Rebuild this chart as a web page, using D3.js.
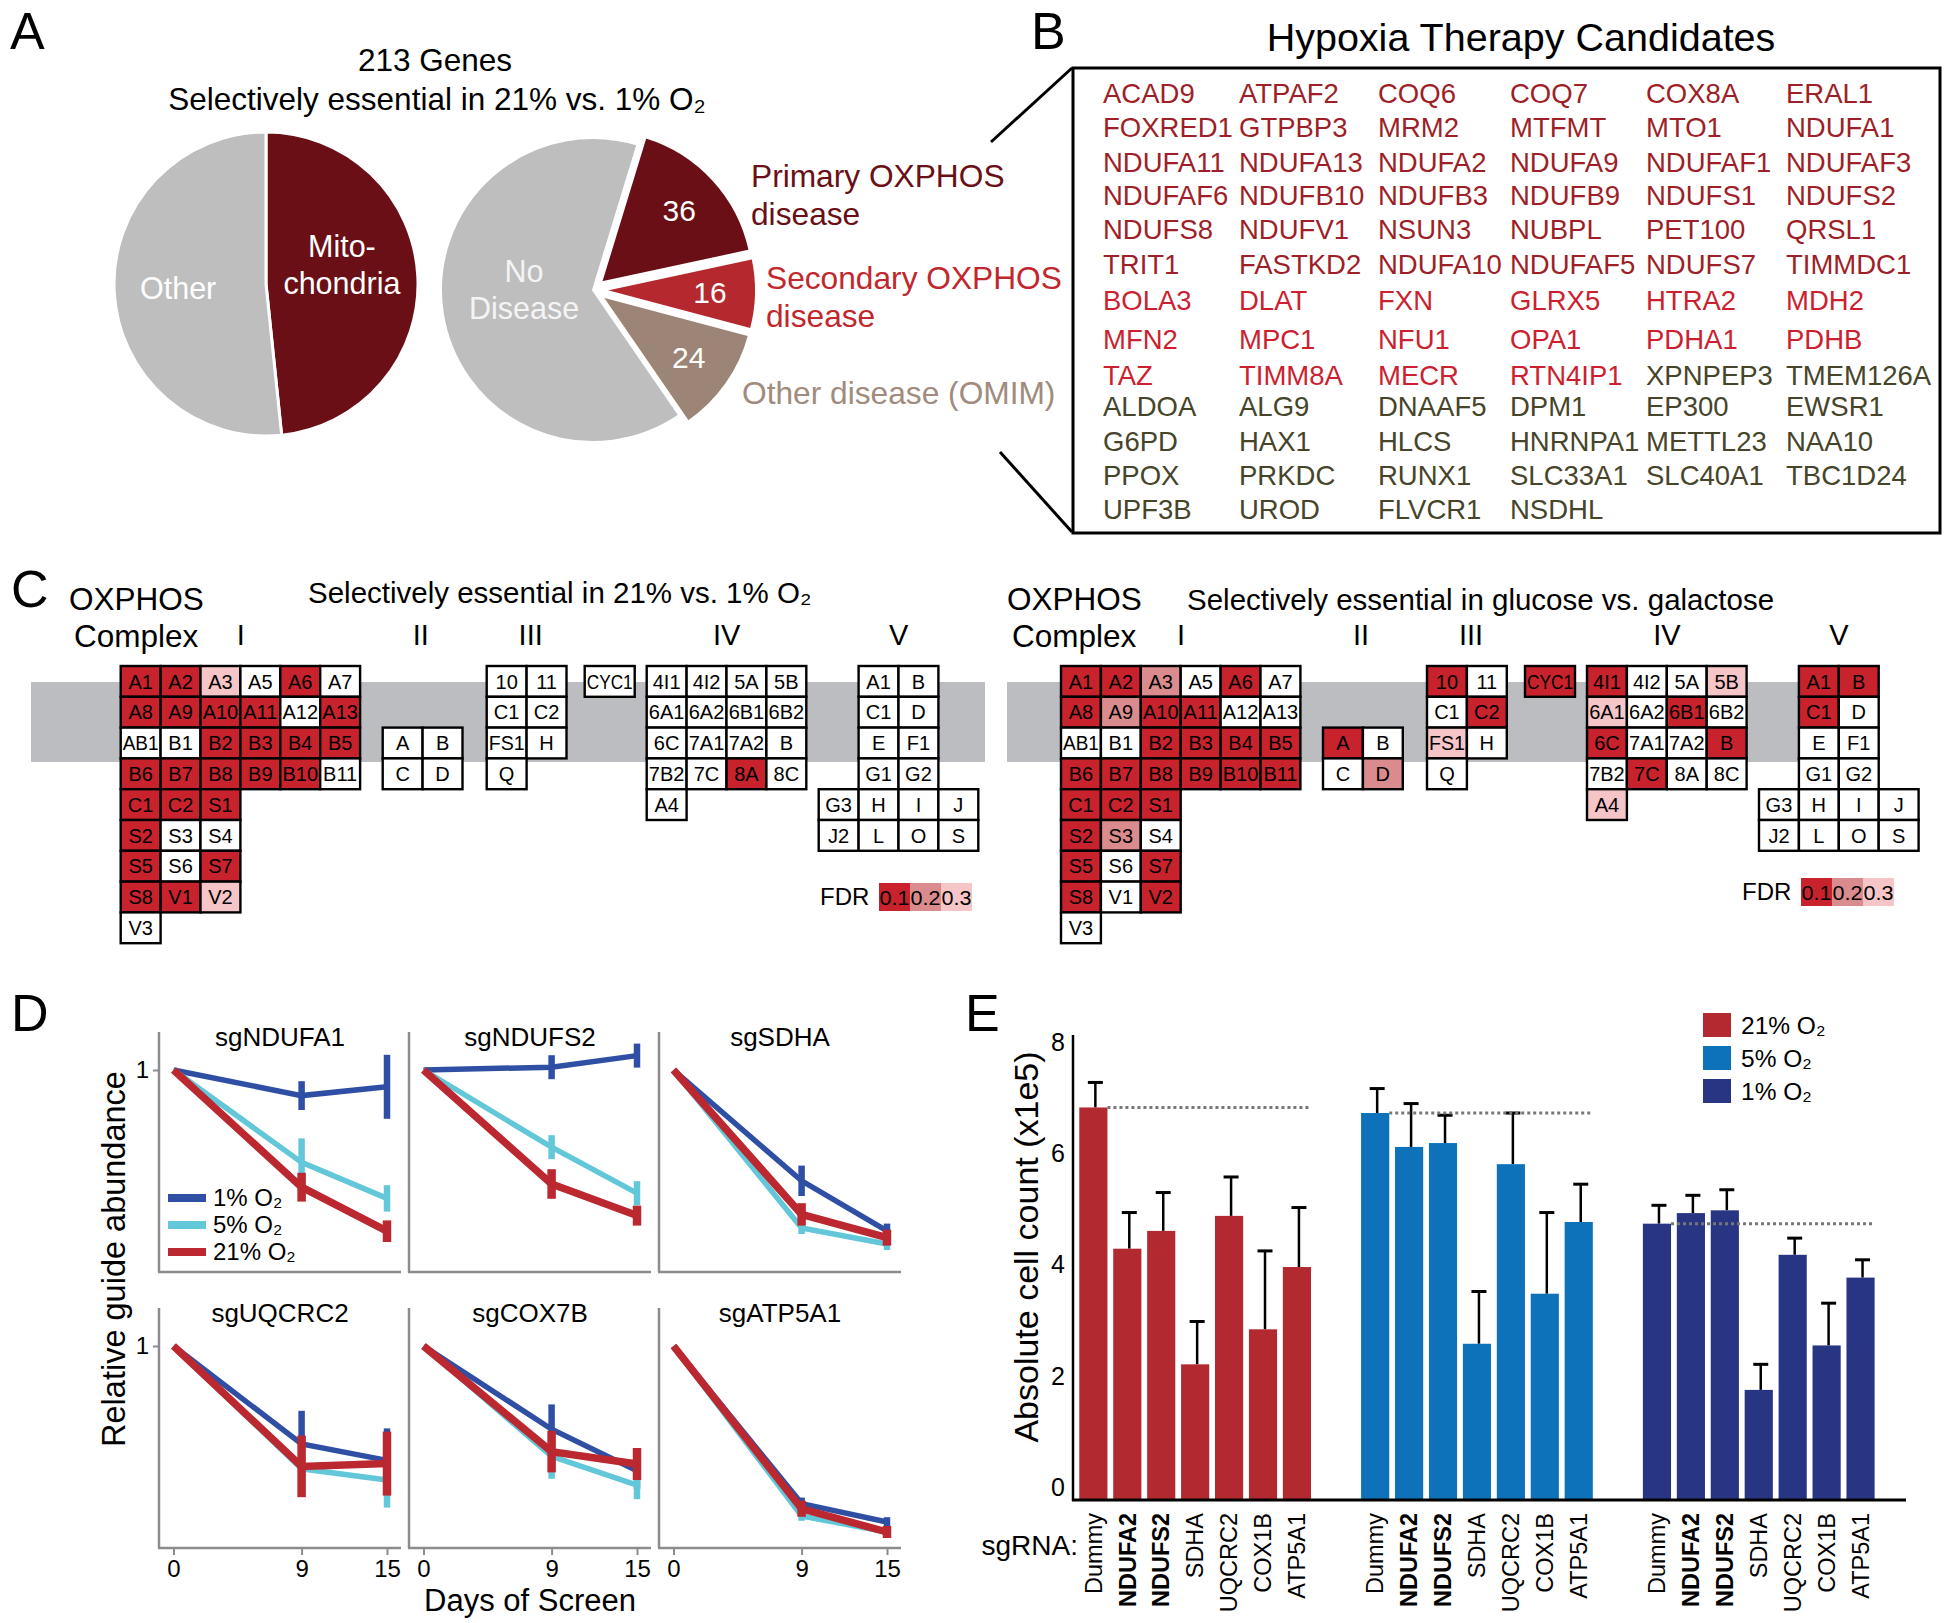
<!DOCTYPE html>
<html><head><meta charset="utf-8">
<script src="https://cdn.jsdelivr.net/npm/d3@7"></script>
<style>
body{margin:0;background:#fff}
svg{display:block}
text{font-family:"Liberation Sans",Arial,Helvetica,sans-serif}
</style>
</head><body>
<svg id="fig" width="1950" height="1623"></svg>
<script>
// ---------------- DATA ----------------
// Panel A
const mitoCategories = ["Mitochondria", "Other"];
const mitoCounts = [103, 110];
const diseaseCategories = ["Primary OXPHOS disease", "Secondary OXPHOS disease", "Other disease (OMIM)", "No Disease"];
const diseaseCounts = [36, 16, 24, 137];

// Panel B
const primaryGenes = ["ACAD9","ATPAF2","COQ6","COQ7","COX8A","ERAL1","FOXRED1","GTPBP3","MRM2","MTFMT","MTO1","NDUFA1",
  "NDUFA11","NDUFA13","NDUFA2","NDUFA9","NDUFAF1","NDUFAF3","NDUFAF6","NDUFB10","NDUFB3","NDUFB9","NDUFS1","NDUFS2",
  "NDUFS8","NDUFV1","NSUN3","NUBPL","PET100","QRSL1","TRIT1","FASTKD2","NDUFA10","NDUFAF5","NDUFS7","TIMMDC1"];
const secondaryGenes = ["BOLA3","DLAT","FXN","GLRX5","HTRA2","MDH2","MFN2","MPC1","NFU1","OPA1","PDHA1","PDHB",
  "TAZ","TIMM8A","MECR","RTN4IP1"];
const otherDiseaseGenes = ["XPNPEP3","TMEM126A","ALDOA","ALG9","DNAAF5","DPM1","EP300","EWSR1","G6PD","HAX1","HLCS",
  "HNRNPA1","METTL23","NAA10","PPOX","PRKDC","RUNX1","SLC33A1","SLC40A1","TBC1D24","UPF3B","UROD","FLVCR1","NSDHL"];

// Panel C  (subunit grids per complex; FDR class 0 = n.s., 1 = <0.1, 2 = <0.2, 3 = <0.3)
const complexNames = ["I","II","III","CYC1","IV","V"];
const subunitsI = [["A1","A2","A3","A5","A6","A7"],["A8","A9","A10","A11","A12","A13"],["AB1","B1","B2","B3","B4","B5"],
  ["B6","B7","B8","B9","B10","B11"],["C1","C2","S1"],["S2","S3","S4"],["S5","S6","S7"],["S8","V1","V2"],["V3"]];
const subunitsII = [["A","B"],["C","D"]];
const subunitsIII = [["10","11"],["C1","C2"],["FS1","H"],["Q"]];
const subunitsCYC1 = [["CYC1"]];
const subunitsIV = [["4I1","4I2","5A","5B"],["6A1","6A2","6B1","6B2"],["6C","7A1","7A2","B"],["7B2","7C","8A","8C"],["A4"]];
const subunitsV = [[null,"A1","B"],[null,"C1","D"],[null,"E","F1"],[null,"G1","G2"],["G3","H","I","J"],["J2","L","O","S"]];

const fdrHypoxiaI = [[1,1,3,0,1,0],[1,1,1,1,0,1],[0,0,1,1,1,1],[1,1,1,1,1,0],[1,1,1],[1,0,0],[1,0,1],[1,1,3],[0]];
const fdrHypoxiaII = [[0,0],[0,0]];
const fdrHypoxiaIII = [[0,0],[0,0],[0,0],[0]];
const fdrHypoxiaCYC1 = [[0]];
const fdrHypoxiaIV = [[0,0,0,0],[0,0,0,0],[0,0,0,0],[0,0,1,0],[0]];
const fdrHypoxiaV = [[0,0,0],[0,0,0],[0,0,0],[0,0,0],[0,0,0,0],[0,0,0,0]];

const fdrGalactoseI = [[1,1,2,0,1,0],[1,2,1,1,0,0],[0,0,1,1,1,1],[1,1,1,1,1,1],[1,1,1],[1,2,0],[1,0,1],[1,0,1],[0]];
const fdrGalactoseII = [[1,0],[0,2]];
const fdrGalactoseIII = [[1,0],[0,1],[3,0],[0]];
const fdrGalactoseCYC1 = [[1]];
const fdrGalactoseIV = [[1,0,0,3],[3,0,1,0],[1,0,0,1],[0,1,0,0],[3]];
const fdrGalactoseV = [[0,1,1],[0,1,0],[0,0,0],[0,0,0],[0,0,0,0],[0,0,0,0]];
const fdrLegendLabels = ["0.1","0.2","0.3"];

// Panel D (log2 relative guide abundance, mean and error)
const days = [0, 9, 15];
const guidesD = ["sgNDUFA1","sgNDUFS2","sgSDHA","sgUQCRC2","sgCOX7B","sgATP5A1"];
const o2Conditions = ["1% O₂","5% O₂","21% O₂"];
const abund1pct  = [[0,-0.64,-0.42],[0,0.07,0.36],[0,-2.77,-4.02],[0,-2.45,-2.86],[0,-2.08,-3.12],[0,-3.94,-4.40]];
const err1pct    = [[0,0.36,0.80],[0,0.30,0.30],[0,0.38,0.18],[0,0.83,0.80],[0,0.62,0.45],[0,0.15,0.12]];
const abund5pct  = [[0,-2.31,-3.21],[0,-1.93,-3.08],[0,-3.95,-4.35],[0,-3.07,-3.35],[0,-2.76,-3.48],[0,-4.25,-4.65]];
const err5pct    = [[0,0.60,0.33],[0,0.30,0.30],[0,0.15,0.15],[0,0.30,0.69],[0,0.56,0.35],[0,0.12,0.12]];
const abund21pct = [[0,-2.93,-4.03],[0,-2.85,-3.64],[0,-3.61,-4.19],[0,-3.01,-2.94],[0,-2.64,-2.95],[0,-4.07,-4.65]];
const err21pct   = [[0,0.36,0.27],[0,0.37,0.25],[0,0.28,0.20],[0,0.77,0.80],[0,0.52,0.40],[0,0.20,0.15]];

// Panel E (absolute cell count x1e5)
const sgRNAs = ["Dummy","NDUFA2","NDUFS2","SDHA","UQCRC2","COX1B","ATP5A1"];
const boldSgRNAs = ["NDUFA2","NDUFS2"];
const o2Levels = ["21% O₂","5% O₂","1% O₂"];
const counts21 = [7.06, 4.52, 4.84, 2.44, 5.11, 3.07, 4.19];
const errs21   = [0.45, 0.65, 0.69, 0.77, 0.70, 1.41, 1.07];
const counts5  = [6.96, 6.35, 6.42, 2.81, 6.04, 3.71, 5.00];
const errs5    = [0.44, 0.78, 0.50, 0.94, 0.92, 1.46, 0.68];
const counts1  = [4.97, 5.16, 5.21, 1.98, 4.41, 2.78, 4.00];
const errs1    = [0.33, 0.32, 0.37, 0.46, 0.30, 0.76, 0.32];
const yTicksE = [0, 2, 4, 6, 8];

// ---------------- DRAWING ----------------
(function(){
const svg = d3.select("#fig");

// panel letters
[["A",10,49],["B",1031,49],["C",11,607],["D",11,1031],["E",965,1031]].forEach(([t,x,y]) => {
  svg.append("text").attr("x",x).attr("y",y).attr("font-size",52).text(t);
});

// ===== Panel A =====
svg.append("text").attr("x",435).attr("y",60).attr("dy","0.35em").attr("text-anchor","middle").attr("font-size",31.5).text("213 Genes");
svg.append("text").attr("x",437).attr("y",99).attr("dy","0.35em").attr("text-anchor","middle").attr("font-size",31.5)
  .text("Selectively essential in 21% vs. 1% O₂");

const rA = 152;
const arc = d3.arc().innerRadius(0).outerRadius(rA);
const mitoData = mitoCategories.map((c,i)=>({cat:c, v:mitoCounts[i]}));
const pieGen = d3.pie().sort(null).value(d=>d.v).startAngle(0).endAngle(2*Math.PI);
const mitoColor = d3.scaleOrdinal().domain(mitoCategories).range(["#6b0f16","#bebebe"]);
const g1 = svg.append("g").attr("transform","translate(266,284)");
const arcs1 = pieGen(mitoData);
g1.selectAll("path").data(arcs1).join("path").attr("d",arc).attr("fill",d=>mitoColor(d.data.cat))
  .attr("stroke","#fff").attr("stroke-width",3);
arcs1.forEach(a => {
  const isMito = a.data.cat === "Mitochondria";
  const lines = isMito ? ["Mito-","chondria"] : ["Other"];
  const mid = (a.startAngle + a.endAngle)/2;
  const lr = isMito ? 76 : 88;
  const cx = Math.sin(mid)*lr, cy = -Math.cos(mid)*lr;
  lines.forEach((t,i)=>{
    g1.append("text").attr("x", cx).attr("y", cy + (i-(lines.length-1)/2)*37 + (isMito?-15:0))
      .attr("dy","0.35em").attr("text-anchor","middle").attr("font-size",30.5).attr("fill","#fff").text(t);
  });
});

// disease pie
const disData = diseaseCategories.map((c,i)=>({cat:c, v:diseaseCounts[i]}));
const start = 17*Math.PI/180;
const pie2 = d3.pie().sort(null).value(d=>d.v).startAngle(start).endAngle(start+2*Math.PI);
const arcs2 = pie2(disData);
const disColor = d3.scaleOrdinal().domain(diseaseCategories).range(["#6b0f16","#b5282e","#9c8577","#bebebe"]);
const g2 = svg.append("g").attr("transform","translate(593,290)");
const explode = 11;
arcs2.forEach(a => {
  const mid = (a.startAngle + a.endAngle)/2;
  const off = a.data.cat === "No Disease" ? 0 : explode;
  const dx = Math.sin(mid)*off, dy = -Math.cos(mid)*off;
  g2.append("path").attr("d", arc(a)).attr("transform",`translate(${dx},${dy})`)
    .attr("fill", disColor(a.data.cat)).attr("stroke","#fff").attr("stroke-width",2);
  if (a.data.cat === "No Disease") {
    g2.append("text").attr("x",-69).attr("y",-19).attr("dy","0.35em").attr("text-anchor","middle").attr("font-size",30.5).attr("fill","#f4f4f4").text("No");
    g2.append("text").attr("x",-69).attr("y",18).attr("dy","0.35em").attr("text-anchor","middle").attr("font-size",30.5).attr("fill","#f4f4f4").text("Disease");
  } else {
    const lr = 106;
    const lx = Math.sin(mid)*(lr+off), ly = -Math.cos(mid)*(lr+off);
    g2.append("text").attr("x",lx).attr("y",ly).attr("dy","0.35em").attr("text-anchor","middle").attr("font-size",30).attr("fill","#fff").text(a.data.v);
  }
});
// outside labels
const outLabels = [
  {lines:["Primary OXPHOS","disease"], x:751, y:[176,214], c:"#6b0f16"},
  {lines:["Secondary OXPHOS","disease"], x:766, y:[278,316], c:"#c1272d"},
  {lines:["Other disease (OMIM)"], x:742, y:[393], c:"#a08b7d"}
];
outLabels.forEach(o => o.lines.forEach((t,i)=>{
  svg.append("text").attr("x",o.x).attr("y",o.y[i]).attr("dy","0.35em").attr("font-size",31.7).attr("fill",o.c).text(t);
}));
// connector lines to panel B
svg.append("line").attr("x1",991).attr("y1",142).attr("x2",1072).attr("y2",68).attr("stroke","#000").attr("stroke-width",3);
svg.append("line").attr("x1",1000).attr("y1",452).attr("x2",1072).attr("y2",532).attr("stroke","#000").attr("stroke-width",3);

// ===== Panel B =====
svg.append("text").attr("x",1521).attr("y",37).attr("dy","0.35em").attr("text-anchor","middle").attr("font-size",39.5).text("Hypoxia Therapy Candidates");
svg.append("rect").attr("x",1073).attr("y",68).attr("width",867).attr("height",465).attr("fill","none").attr("stroke","#000").attr("stroke-width",3);
const allGenes = primaryGenes.map(g=>({g,c:"p"})).concat(secondaryGenes.map(g=>({g,c:"s"})), otherDiseaseGenes.map(g=>({g,c:"o"})));
const geneColor = {p:"#9e1f28", s:"#cc1f30", o:"#46452a"};
const colX = [1103,1239,1378,1510,1646,1786];
const rowY = [93.5,127,162,195.5,229,264,300.5,339,375.5,406.5,441.5,475,509.5];
svg.append("g").selectAll("text").data(allGenes).join("text")
  .attr("x",(d,i)=>colX[i%6]).attr("y",(d,i)=>rowY[Math.floor(i/6)]).attr("dy","0.35em")
  .attr("font-size",27.5).attr("fill",d=>geneColor[d.c]).text(d=>d.g);

// ===== Panel C =====
const subunits = {I:subunitsI, II:subunitsII, III:subunitsIII, CYC1:subunitsCYC1, IV:subunitsIV, V:subunitsV};
const fdrH = {I:fdrHypoxiaI, II:fdrHypoxiaII, III:fdrHypoxiaIII, CYC1:fdrHypoxiaCYC1, IV:fdrHypoxiaIV, V:fdrHypoxiaV};
const fdrG = {I:fdrGalactoseI, II:fdrGalactoseII, III:fdrGalactoseIII, CYC1:fdrGalactoseCYC1, IV:fdrGalactoseIV, V:fdrGalactoseV};
const fdrColor = d3.scaleOrdinal().domain([0,1,2,3]).range(["#ffffff","#c8232c","#d98b8d","#f5c5c8"]);
const cellW = 39.9, cellH = 30.8, cellTop = 666;
const complexX = {I:0, II:262, III:366, CYC1:464, IV:526, V:698};
const complexRow0 = {I:0, II:2, III:0, CYC1:0, IV:0, V:0};
const romanCenter = {I:120, II:300, III:410, IV:606, V:778};
const cellFont = '"Liberation Sans Narrow","Liberation Sans",Arial,sans-serif';

function drawOxphos(ox, fdr, title, titleX, titleY, oxX, band, legend) {
  const g = svg.append("g");
  g.append("rect").attr("x",band[0]).attr("y",682).attr("width",band[1]-band[0]).attr("height",80).attr("fill","#bcbdc0");
  g.append("text").attr("x",oxX).attr("y",599).attr("dy","0.35em").attr("font-size",31.5).text("OXPHOS");
  g.append("text").attr("x",oxX+5).attr("y",636).attr("dy","0.35em").attr("font-size",31.5).text("Complex");
  g.append("text").attr("x",titleX).attr("y",titleY).attr("dy","0.35em").attr("font-size",29.5).text(title);
  Object.entries(romanCenter).forEach(([k,cx]) => {
    g.append("text").attr("x",ox+cx).attr("y",635).attr("dy","0.35em").attr("text-anchor","middle").attr("font-size",29).text(k);
  });
  complexNames.forEach(cn => {
    const rows = subunits[cn];
    const w = cn === "CYC1" ? 50 : cellW;
    rows.forEach((row, ri) => row.forEach((name, ci) => {
      if (name === null) return;
      const x = ox + complexX[cn] + ci*w, y = cellTop + (complexRow0[cn]+ri)*cellH;
      g.append("rect").attr("x",x).attr("y",y).attr("width",w).attr("height",cellH)
        .attr("fill",fdrColor(fdr[cn][ri][ci])).attr("stroke","#000").attr("stroke-width",2.4);
      const t = g.append("text").attr("x",x+w/2).attr("y",y+cellH/2).attr("dy","0.36em").attr("text-anchor","middle")
        .attr("font-size",20).attr("font-family",cellFont).text(name);
      const len = t.node().getComputedTextLength();
      if (len > w-4) t.attr("textLength", w-4).attr("lengthAdjust","spacingAndGlyphs");
    }));
  });
  // FDR legend
  g.append("text").attr("x",legend[0]).attr("y",legend[1]).attr("dy","0.35em").attr("font-size",24).text("FDR");
  fdrLegendLabels.forEach((t,i) => {
    const x = legend[0]+59+i*31;
    g.append("rect").attr("x",x).attr("y",legend[1]-14).attr("width",31).attr("height",28).attr("fill",fdrColor(i+1));
    g.append("text").attr("x",x+15.5).attr("y",legend[1]).attr("dy","0.36em").attr("text-anchor","middle").attr("font-size",21)
      .attr("font-family",cellFont).attr("textLength",30).attr("lengthAdjust","spacingAndGlyphs").text(t);
  });
}
drawOxphos(120.7, fdrH, "Selectively essential in 21% vs. 1% O₂", 308, 593, 69, [31,985], [820,897]);
drawOxphos(1061, fdrG, "Selectively essential in glucose vs. galactose", 1187, 600, 1007, [1007,1806], [1742,892]);

// ===== Panel D =====
const condColor = d3.scaleOrdinal().domain(o2Conditions).range(["#2f4fa4","#62c8d9","#bb2830"]);
const condWidth = {"1% O₂":5.5, "5% O₂":5.5, "21% O₂":7.5};
const condAbund = {"1% O₂":abund1pct, "5% O₂":abund5pct, "21% O₂":abund21pct};
const condErr = {"1% O₂":err1pct, "5% O₂":err5pct, "21% O₂":err21pct};
const facetX0 = [159,409,659], facetTop = [1032,1308];
const facetW = 242, facetH = 240;
const axisGray = "#8c8c8c";
const ff = '"Liberation Sans",Arial,sans-serif';
guidesD.forEach((guide, gi) => {
  const col = gi % 3, row = Math.floor(gi/3);
  const x0 = facetX0[col], top = facetTop[row], bottom = top + facetH;
  const x = d3.scaleLinear().domain([0,15]).range([x0+14.5, x0+228]);
  const y = d3.scaleLinear().domain([-5.05, 0.95]).range([bottom, top]);
  const g = svg.append("g");
  g.append("line").attr("x1",x0).attr("x2",x0).attr("y1",top).attr("y2",bottom).attr("stroke",axisGray).attr("stroke-width",2.5);
  g.append("line").attr("x1",x0-1).attr("x2",x0+facetW).attr("y1",bottom).attr("y2",bottom).attr("stroke",axisGray).attr("stroke-width",2.5);
  g.append("text").attr("x",x0+121).attr("y",top+5).attr("dy","0.35em").attr("text-anchor","middle").attr("font-size",26).text(guide);
  if (col === 0) {
    const ya = d3.axisLeft(y).tickValues([0]).tickFormat(()=> "1").tickSize(6).tickPadding(4);
    const ag = g.append("g").attr("transform",`translate(${x0},0)`).call(ya);
    ag.select(".domain").remove();
    ag.selectAll("line").attr("stroke",axisGray).attr("stroke-width",2);
    ag.selectAll("text").attr("font-size",24).attr("font-family",ff).attr("fill","#000");
  }
  if (row === 1) {
    const xa = d3.axisBottom(x).tickValues(days).tickSize(7).tickPadding(5);
    const ag = g.append("g").attr("transform",`translate(0,${bottom})`).call(xa);
    ag.select(".domain").remove();
    ag.selectAll("line").attr("stroke",axisGray).attr("stroke-width",2);
    ag.selectAll("text").attr("font-size",24).attr("font-family",ff).attr("fill","#000");
  }
  o2Conditions.forEach(cond => {
    const vals = condAbund[cond][gi], errs = condErr[cond][gi];
    const pts = days.map((d,i)=>({d, v:vals[i], e:errs[i]}));
    g.append("path").datum(pts).attr("d", d3.line().x(p=>x(p.d)).y(p=>y(p.v)))
      .attr("fill","none").attr("stroke",condColor(cond)).attr("stroke-width",condWidth[cond]);
    pts.filter(p=>p.e>0).forEach(p => {
      g.append("line").attr("x1",x(p.d)).attr("x2",x(p.d)).attr("y1",y(p.v-p.e)).attr("y2",y(p.v+p.e))
        .attr("stroke",condColor(cond)).attr("stroke-width",condWidth[cond]+1);
    });
  });
  if (gi === 0) {
    o2Conditions.forEach((cond, i) => {
      const ly = 1198 + i*27;
      g.append("line").attr("x1",168).attr("x2",206).attr("y1",ly).attr("y2",ly).attr("stroke",condColor(cond)).attr("stroke-width",8);
      g.append("text").attr("x",213).attr("y",ly).attr("dy","0.35em").attr("font-size",24).text(cond);
    });
  }
});
svg.append("text").attr("x",530).attr("y",1600).attr("dy","0.35em").attr("text-anchor","middle").attr("font-size",31).text("Days of Screen");
svg.append("text").attr("transform","translate(114,1259) rotate(-90)").attr("dy","0.35em").attr("text-anchor","middle").attr("font-size",32.5).text("Relative guide abundance");

// ===== Panel E =====
const yE = d3.scaleLinear().domain([0,8]).range([1500, 1055.2]);
const xGroup = d3.scaleBand().domain(o2Levels).range([1076.4, 1076.4 + 3*281.8]);
const xBar = d3.scaleBand().domain(sgRNAs).range([0, 237.5]).paddingInner(0.17).paddingOuter(0.085);
const groupColor = d3.scaleOrdinal().domain(o2Levels).range(["#b22a30","#0e72ba","#283583"]);
const groupCounts = {"21% O₂":counts21, "5% O₂":counts5, "1% O₂":counts1};
const groupErrs = {"21% O₂":errs21, "5% O₂":errs5, "1% O₂":errs1};
const gE = svg.append("g");
o2Levels.forEach(lvl => {
  const gx = xGroup(lvl);
  const vals = groupCounts[lvl], errs = groupErrs[lvl];
  sgRNAs.forEach((s,i) => {
    const bx = gx + xBar(s), bw = xBar.bandwidth(), cx = bx + bw/2 + 2;
    const yTop = yE(vals[i]+errs[i]);
    gE.append("line").attr("x1",cx).attr("x2",cx).attr("y1",yE(vals[i])).attr("y2",yTop).attr("stroke","#000").attr("stroke-width",2.5);
    gE.append("line").attr("x1",cx-7.5).attr("x2",cx+7.5).attr("y1",yTop).attr("y2",yTop).attr("stroke","#000").attr("stroke-width",3);
    gE.append("rect").attr("x",bx).attr("y",yE(vals[i])).attr("width",bw).attr("height",yE(0)-yE(vals[i])).attr("fill",groupColor(lvl));
    gE.append("text").attr("transform",`translate(${bx+bw/2},1513) rotate(-90)`).attr("dy","0.35em").attr("text-anchor","end")
      .attr("font-size",23.5).attr("font-weight", boldSgRNAs.includes(s) ? "bold" : "normal").text(s);
  });
  // dotted reference line at Dummy level
  gE.append("line").attr("x1",gx+xBar("Dummy")+xBar.bandwidth()).attr("x2",gx+xBar("ATP5A1")+xBar.bandwidth())
    .attr("y1",yE(vals[0])).attr("y2",yE(vals[0])).attr("stroke","#777").attr("stroke-width",3).attr("stroke-dasharray","3,3");
});
// axes
gE.append("line").attr("x1",1073).attr("x2",1073).attr("y1",1035).attr("y2",1501).attr("stroke","#000").attr("stroke-width",2.5);
gE.append("line").attr("x1",1072).attr("x2",1906).attr("y1",1500).attr("y2",1500).attr("stroke","#000").attr("stroke-width",3);
yTicksE.forEach(t => {
  gE.append("text").attr("x",1065).attr("y",yE(t)-13).attr("dy","0.35em").attr("text-anchor","end").attr("font-size",25).text(t);
});
gE.append("text").attr("transform","translate(1026,1247) rotate(-90)").attr("dy","0.35em").attr("text-anchor","middle").attr("font-size",34).text("Absolute cell count (x1e5)");
gE.append("text").attr("x",1078).attr("y",1545).attr("dy","0.35em").attr("text-anchor","end").attr("font-size",28).text("sgRNA:");
o2Levels.forEach((lvl,i) => {
  gE.append("rect").attr("x",1703).attr("y",1013+i*33).attr("width",28).attr("height",24).attr("fill",groupColor(lvl));
  gE.append("text").attr("x",1741).attr("y",1025+i*33).attr("dy","0.35em").attr("font-size",24.5).text(lvl);
});
})();
</script>
</body></html>
